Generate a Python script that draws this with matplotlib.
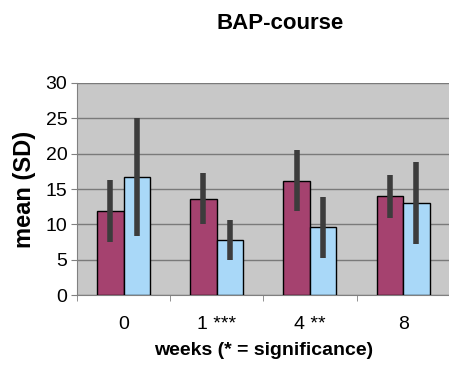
import matplotlib.pyplot as plt
import numpy as np

plt.rcParams['font.family'] = ['Liberation Sans', 'DejaVu Sans']

# data
weeks = ['0', '1 ***', '4 **', '8']
group_a = [11.9, 13.6, 16.2, 14.0]
group_a_sd = [4.4, 3.6, 4.3, 3.05]
group_b = [16.7, 7.8, 9.6, 13.0]
group_b_sd = [8.4, 2.85, 4.3, 5.8]

fig = plt.figure(figsize=(4.49, 3.67), dpi=100)
ax = fig.add_axes([0.1715, 0.196, 0.83, 0.578])
ax.set_facecolor('#c8c8c8')

x = np.arange(len(weeks))
w = 0.285
err_kw = dict(ecolor='#3c3c3c', elinewidth=4, capsize=0)
ax.bar(x - w / 2, group_a, w, color='#a5426f', edgecolor='black', linewidth=1,
       yerr=group_a_sd, error_kw=err_kw, zorder=3)
ax.bar(x + w / 2, group_b, w, color='#a9d8f8', edgecolor='black', linewidth=1,
       yerr=group_b_sd, error_kw=err_kw, zorder=3)

ax.set_ylim(0, 30)
ax.set_xlim(-0.5, 3.5)
ax.set_yticks(range(0, 31, 5))
ax.yaxis.grid(True, color='#7a7a7a', linewidth=1)
ax.set_axisbelow(True)

ax.set_xticks(x)
ax.set_xticklabels(weeks, fontsize=14)
ax.set_xticks(np.arange(-0.5, 3.6, 1), minor=True)
ax.tick_params(axis='x', which='major', length=0, pad=15)
ax.tick_params(axis='x', which='minor', length=4, color='#808080')
ax.tick_params(axis='y', labelsize=14, length=4, color='#808080', pad=3)

for s in ['top', 'right']:
    ax.spines[s].set_visible(False)
ax.spines['left'].set_color('#808080')
ax.spines['bottom'].set_color('#808080')

ax.set_ylabel('mean (SD)', fontsize=17, fontweight='bold')
ax.yaxis.set_label_coords(-0.110, 0.5)
ax.set_xlabel('weeks (* = significance)', fontsize=14, fontweight='bold', va='top')
ax.xaxis.set_label_coords(0.5, -0.222)
fig.text(0.624, 0.937, 'BAP-course', fontsize=16, fontweight='bold',
         ha='center', va='center')

plt.savefig('out.png')
